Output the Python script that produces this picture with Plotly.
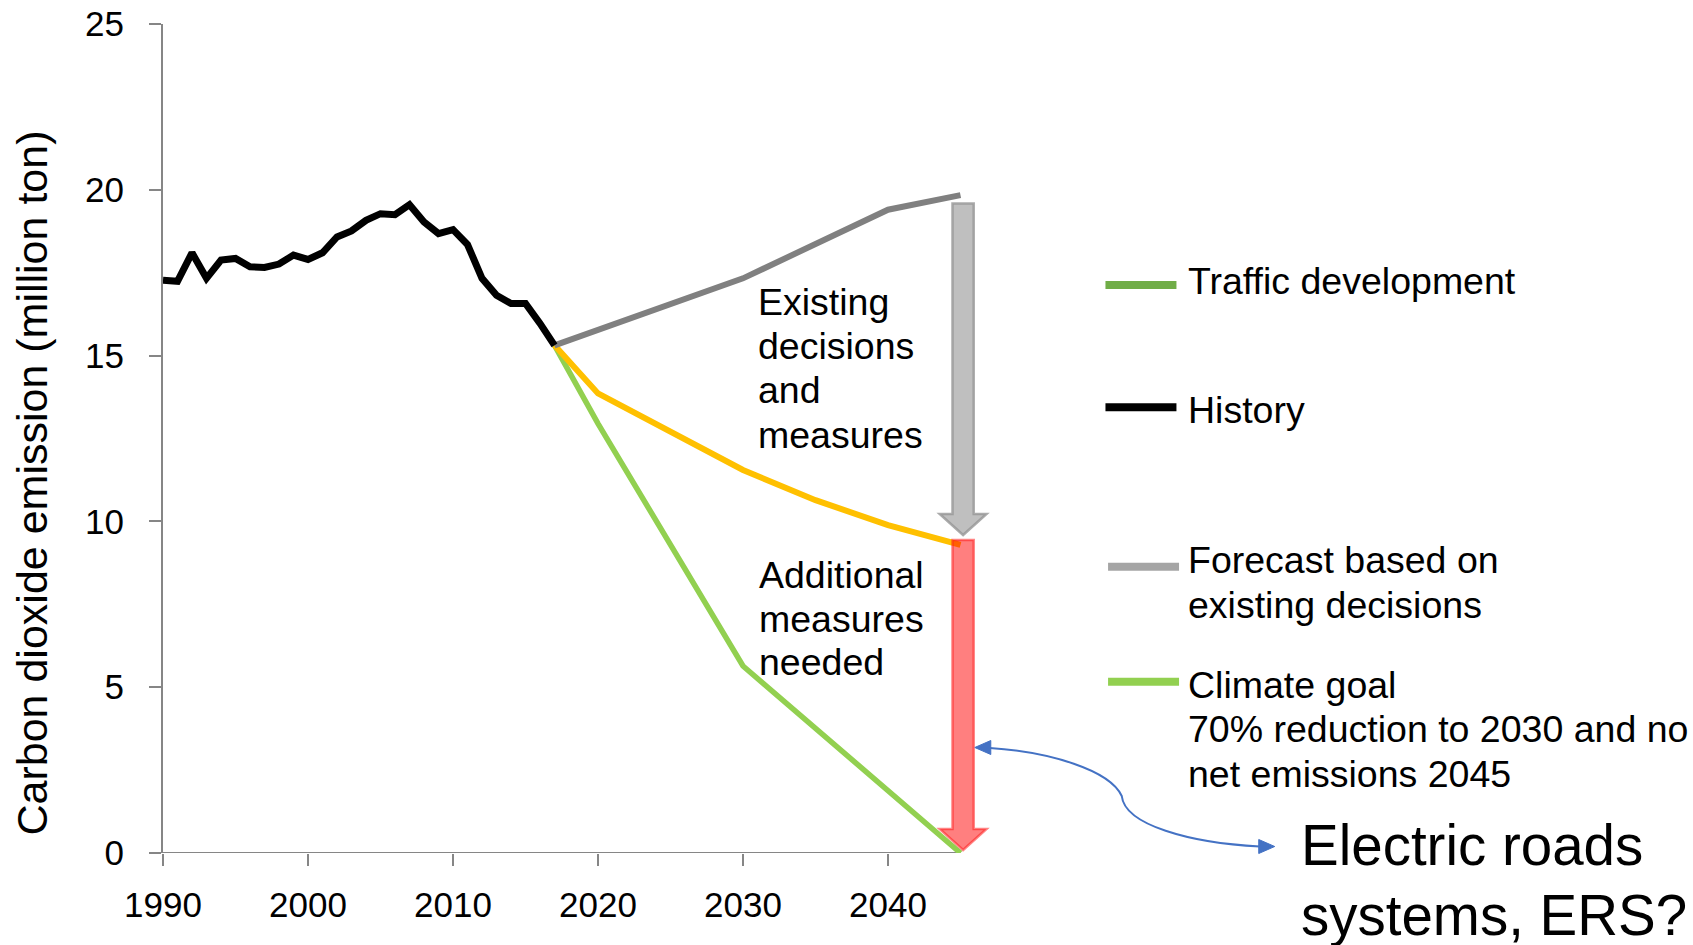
import plotly.graph_objects as go

# ---------------- data ----------------
hist_years = [1990, 1991, 1992, 1993, 1994, 1995, 1996, 1997, 1998, 1999,
              2000, 2001, 2002, 2003, 2004, 2005, 2006, 2007, 2008, 2009,
              2010, 2011, 2012, 2013, 2014, 2015, 2016, 2017]
hist_values = [17.27, 17.24, 18.10, 17.33, 17.88, 17.93, 17.68, 17.66, 17.76, 18.03,
               17.90, 18.10, 18.58, 18.76, 19.08, 19.28, 19.25, 19.55, 19.03, 18.68,
               18.80, 18.35, 17.33, 16.82, 16.57, 16.57, 15.97, 15.31]

forecast_years = [2017, 2030, 2040, 2045]
forecast_values = [15.31, 17.33, 19.40, 19.84]

decisions_years = [2017, 2020, 2030, 2035, 2040, 2045]
decisions_values = [15.31, 13.86, 11.55, 10.64, 9.89, 9.29]

goal_years = [2017, 2020, 2030, 2045]
goal_values = [15.31, 12.95, 5.64, 0.0]

x_ticks = [1990, 2000, 2010, 2020, 2030, 2040]
y_ticks = [0, 5, 10, 15, 20, 25]

legend_labels = ["Traffic development", "History",
                 ["Forecast based on", "existing decisions"],
                 ["Climate goal", "70% reduction to 2030 and no", "net emissions 2045"]]
gap_text_1 = ["Existing", "decisions", "and", "measures"]
gap_text_2 = ["Additional", "measures", "needed"]
ers_text = ["Electric roads", "systems, ERS?"]
y_title = "Carbon dioxide emission (million ton)"

# ---------------- layout geometry ----------------
W, H = 1693, 945
L, T, B = 163, 24, 92
X0, X_AXIS_END, X1 = 1990, 2045, 2048
PX_PER_YR = (960.7 - L) / (X_AXIS_END - X0)
PW = PX_PER_YR * (X1 - X0)
R = W - L - PW
PH = H - T - B
PX_PER_UNIT = PH / 25.0

FONT = "Arial, 'Liberation Sans', sans-serif"
TXT = 37.5


def px(x):
    return (x - L) / PW


def py(y):
    return 1 - (y - T) / PH


fig = go.Figure()

fig.add_trace(go.Scatter(x=goal_years, y=goal_values, mode="lines", name="Climate goal",
                         line=dict(color="#92D050", width=5.5), showlegend=False))
fig.add_trace(go.Scatter(x=decisions_years, y=decisions_values, mode="lines",
                         name="Existing decisions", line=dict(color="#FFC000", width=6),
                         showlegend=False))
fig.add_trace(go.Scatter(x=forecast_years, y=forecast_values, mode="lines",
                         name="Forecast based on existing decisions",
                         line=dict(color="#808080", width=6), showlegend=False))
fig.add_trace(go.Scatter(x=hist_years, y=hist_values, mode="lines", name="History",
                         line=dict(color="#000000", width=7), showlegend=False))

shapes = []
# x axis line (ends at the last data year)
shapes.append(dict(type="line", xref="x", yref="y", x0=X0, x1=X_AXIS_END, y0=0, y1=0,
                   line=dict(color="#868686", width=2), layer="below"))


def down_arrow(xc, ytop, ytip, fill, border):
    shaft = 10.6 / PX_PER_YR
    head = 23.4 / PX_PER_YR
    hl = 21.0 / PX_PER_UNIT
    yb = ytip + hl
    path = (f"M {xc - shaft} {ytop} L {xc + shaft} {ytop} L {xc + shaft} {yb} "
            f"L {xc + head} {yb} L {xc} {ytip} L {xc - head} {yb} L {xc - shaft} {yb} Z")
    return dict(type="path", xref="x", yref="y", path=path, fillcolor=fill,
                line=dict(color=border, width=2.5), layer="above")


arrow_x = X_AXIS_END + 2.6 / PX_PER_YR
shapes.append(down_arrow(arrow_x, forecast_values[-1] - 0.25, decisions_values[-1] + 0.30,
                         "#BFBFBF", "rgba(150,150,150,0.8)"))
shapes.append(down_arrow(arrow_x, decisions_values[-1] + 0.15, goal_values[-1] + 0.09,
                         "rgba(255,0,0,0.5)", "rgba(255,30,30,0.55)"))

# blue double-headed curved connector
blue = "#4472C4"
curve = (f"M {px(990)} {py(748)} C {px(1050)} {py(752)}, {px(1110)} {py(770)}, {px(1122)} {py(796)} "
         f"C {px(1125)} {py(825)}, {px(1190)} {py(843)}, {px(1260)} {py(846.5)}")
shapes.append(dict(type="path", xref="paper", yref="paper", path=curve,
                   line=dict(color=blue, width=2)))
shapes.append(dict(type="path", xref="paper", yref="paper",
                   path=f"M {px(975)} {py(747.5)} L {px(991)} {py(740.5)} L {px(991)} {py(754.5)} Z",
                   fillcolor=blue, line=dict(color=blue, width=1)))
shapes.append(dict(type="path", xref="paper", yref="paper",
                   path=f"M {px(1275)} {py(846.5)} L {px(1259)} {py(839.5)} L {px(1259)} {py(853.5)} Z",
                   fillcolor=blue, line=dict(color=blue, width=1)))

# manual legend keys
legend_keys = [(1105.7, 1176.7, 285, "#70AD47"), (1105.7, 1176.7, 407.3, "#000000"),
               (1108.3, 1179.3, 566.7, "#A5A5A5"), (1108.3, 1179.3, 681.7, "#92D050")]
for xa, xb, yy, c in legend_keys:
    shapes.append(dict(type="line", xref="paper", yref="paper", x0=px(xa), x1=px(xb),
                       y0=py(yy), y1=py(yy), line=dict(color=c, width=8)))

annotations = []


def text(s, x, y, size=TXT):
    annotations.append(dict(text=s, xref="paper", yref="paper", x=px(x), y=py(y),
                            xanchor="left", yanchor="middle", showarrow=False,
                            font=dict(family=FONT, size=size, color="#000000")))


# legend labels
text(legend_labels[0], 1186, 281)
text(legend_labels[1], 1186, 410)
for s, yy in zip(legend_labels[2], [560, 604.5]):
    text(s, 1186, yy)
for s, yy in zip(legend_labels[3], [684.5, 729, 773.5]):
    text(s, 1186, yy)

for s, yy in zip(gap_text_1, [301.5, 346, 390, 435]):
    text(s, 756, yy)
for s, yy in zip(gap_text_2, [574.5, 618.5, 662]):
    text(s, 757, yy)
for s, yy in zip(ers_text, [845, 915]):
    text(s, 1299, yy, size=56.5)

annotations.append(dict(text=y_title, xref="paper", yref="paper", x=px(31.5), y=py(483),
                        xanchor="center", yanchor="middle", textangle=-90, showarrow=False,
                        font=dict(family=FONT, size=43, color="#000000")))

fig.update_layout(
    width=W, height=H,
    margin=dict(l=L, r=R, t=T, b=B, pad=0, autoexpand=False),
    paper_bgcolor="white", plot_bgcolor="white",
    font=dict(family=FONT, color="#000000"),
    shapes=shapes, annotations=annotations, showlegend=False,
)
fig.update_xaxes(range=[X0, X1], tickmode="array", tickvals=x_ticks,
                 ticktext=[str(v) for v in x_ticks], showgrid=False, zeroline=False,
                 showline=False, ticks="outside", ticklen=12, tickwidth=2,
                 tickcolor="#868686", tickfont=dict(family=FONT, size=35),
                 automargin=False, ticklabelstandoff=9)
fig.update_yaxes(range=[0, 25], tickmode="array", tickvals=y_ticks,
                 showgrid=False, zeroline=False, showline=True, linecolor="#868686",
                 linewidth=2, ticks="outside", ticklen=12, tickwidth=2,
                 tickcolor="#868686", tickfont=dict(family=FONT, size=35),
                 automargin=False, ticklabelstandoff=18)

fig.write_html("out.html", config={"displayModeBar": False},
               post_script="document.body.style.margin='0';document.body.style.overflow='hidden';")
